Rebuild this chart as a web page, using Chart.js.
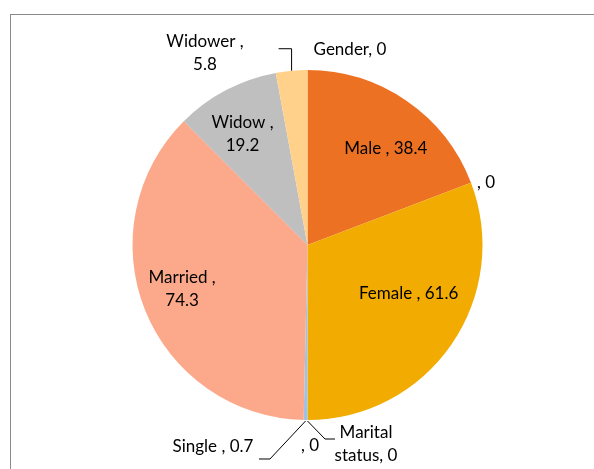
<!DOCTYPE html>
<html>
<head>
<meta charset="utf-8">
<script src="https://cdn.jsdelivr.net/npm/chart.js@4"></script>
<style>
  html, body { margin: 0; padding: 0; background: #fff; overflow: hidden; }
  #wrap { position: relative; width: 594px; height: 469px; }
  #frame { position: absolute; left: 10px; top: 14px; width: 700px; height: 600px; border: 1px solid #8a8a8a; }
  canvas { position: absolute; left: 0; top: 0; }
</style>
</head>
<body>
<div id="wrap">
  <div id="frame"></div>
  <canvas id="pieChart" width="594" height="469"></canvas>
</div>
<script>
// data
const categories = ['Gender', 'Male ', '', 'Female ', '', 'Marital status', 'Single ', 'Married ', 'Widow ', 'Widower '];
const values = [0, 38.4, 0, 61.6, 0, 0, 0.7, 74.3, 19.2, 5.8];
const colors = ['#FFD18A', '#ED7123', '#ED7123', '#F2AB00', '#F2AB00', '#9DC3E6', '#9DC3E6', '#FCA98B', '#BFBFBF', '#FFD18A'];

// label placement, relative to the slice's outer edge at its mid angle
const labelStyle = [
    { off: [42.5, -20] },
    { off: [-21, 48] },
    { off: [15, 0] },
    { off: [-43, -51] },
    { off: [2.5, 26] },
    { off: [58.5, 24], split: 'first', leader: [[0, 1], [17.5, 19], [27.5, 19]] },
    { off: [-92.6, 27], leader: [[0, 1], [-35.6, 39], [-46.6, 39]] },
    { off: [37, -21], split: 'last' },
    { off: [16.4, 44], split: 'last' },
    { off: [-86.6, -17.7], split: 'last', leader: [[0, 0], [0, -22], [-13, -22]] }
];

const pieLabels = {
    id: 'pieLabels',
    afterDatasetsDraw(chart) {
        const ctx = chart.ctx;
        const arcs = chart.getDatasetMeta(0).data;
        ctx.save();
        ctx.font = '17px Lato';
        ctx.fillStyle = '#000';
        ctx.textAlign = 'center';
        ctx.textBaseline = 'middle';
        arcs.forEach((arc, i) => {
            const st = labelStyle[i];
            const mid = (arc.startAngle + arc.endAngle) / 2;
            const ex = arc.x + Math.cos(mid) * arc.outerRadius;
            const ey = arc.y + Math.sin(mid) * arc.outerRadius;
            let text = categories[i] + ', ' + values[i];
            let lines = [text];
            if (st.split === 'last') {
                const k = text.lastIndexOf(' ');
                lines = [text.slice(0, k), text.slice(k + 1)];
            } else if (st.split === 'first') {
                const k = text.indexOf(' ');
                lines = [text.slice(0, k), text.slice(k + 1)];
            }
            const lx = ex + st.off[0];
            const ly = ey + st.off[1];
            const lh = 23;
            lines.forEach((l, j) => {
                ctx.fillText(l, lx, ly + (j - (lines.length - 1) / 2) * lh);
            });
            if (st.leader) {
                ctx.strokeStyle = '#000';
                ctx.lineWidth = 1;
                ctx.beginPath();
                st.leader.forEach((p, j) => {
                    if (j === 0) ctx.moveTo(ex + p[0], ey + p[1]);
                    else ctx.lineTo(ex + p[0], ey + p[1]);
                });
                ctx.stroke();
            }
        });
        ctx.restore();
    }
};

new Chart(document.getElementById('pieChart').getContext('2d'), {
    type: 'pie',
    data: {
        labels: categories,
        datasets: [{
            data: values,
            backgroundColor: colors,
            borderWidth: 0
        }]
    },
    options: {
        responsive: false,
        animation: false,
        layout: { padding: { left: 132, right: 111, top: 70, bottom: 49 } },
        plugins: {
            legend: { display: false },
            tooltip: { enabled: false }
        }
    },
    plugins: [pieLabels]
});
</script>
</body>
</html>
